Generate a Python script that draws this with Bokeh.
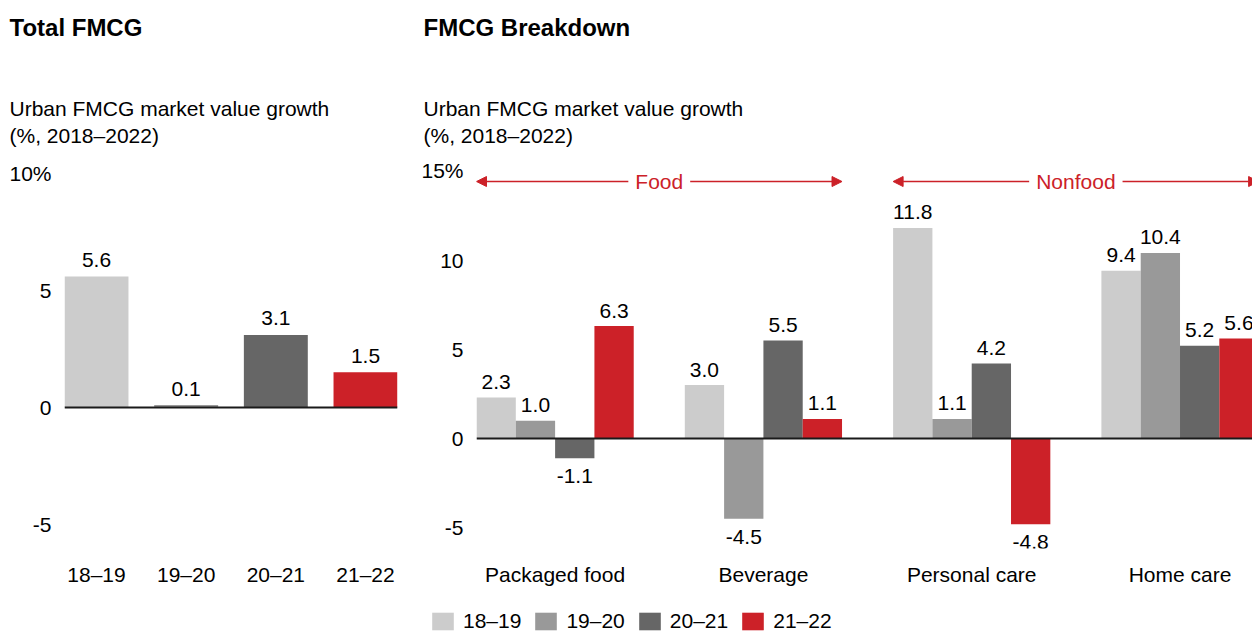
from bokeh.plotting import figure
from bokeh.layouts import row, column
from bokeh.models import (Range1d, FixedTicker, Span, Label, Arrow, NormalHead,
                          ColumnDataSource, Legend, LegendItem)
from bokeh.core.properties import value
from bokeh.embed import file_html
from bokeh.resources import INLINE

# ---------------- data ----------------
periods = ["18–19", "19–20", "20–21", "21–22"]
total_growth = [5.6, 0.1, 3.1, 1.5]

segments = ["Packaged food", "Beverage", "Personal care", "Home care"]
growth_18_19 = [2.3, 3.0, 11.8, 9.4]
growth_19_20 = [1.0, -4.5, 1.1, 10.4]
growth_20_21 = [-1.1, 5.5, 4.2, 5.2]
growth_21_22 = [6.3, 1.1, -4.8, 5.6]
series = [growth_18_19, growth_19_20, growth_20_21, growth_21_22]

left_ticks = [-5, 0, 5, 10]
left_tick_labels = ["-5", "0", "5", "10%"]
right_ticks = [-5, 0, 5, 10, 15]
right_tick_labels = ["-5", "0", "5", "10", "15%"]

colors = ["#cccccc", "#999999", "#666666", "#cc2128"]
RED = "#cc2128"
FONT = "Liberation Sans"
FS = "21px"
W = 1252
HEAD_H = 150
CHART_H = 443
LEG_H = 40


def bare(p):
    p.grid.visible = False
    p.outline_line_color = None
    p.background_fill_color = "white"
    p.border_fill_color = "white"


def style(p):
    bare(p)
    for ax in (p.xaxis, p.yaxis):
        ax.axis_line_color = None
        ax.major_tick_line_color = None
        ax.minor_tick_line_color = None
        ax.major_tick_out = 0
        ax.major_label_text_font = FONT
        ax.major_label_text_font_size = FS
        ax.major_label_text_color = "#000000"
    p.yaxis.major_label_standoff = 13
    p.xaxis.major_label_standoff = 14


txt = dict(text_font=value(FONT), text_font_size=value(FS), text_color="#000000",
           text_align="center", text_baseline="middle")

# ---------------- header with titles ----------------
head = figure(width=W, height=HEAD_H, x_range=Range1d(0, W), y_range=Range1d(HEAD_H, 0),
              x_axis_type=None, y_axis_type=None, output_backend="svg",
              toolbar_location=None, title=None, min_border=0)
bare(head)
for x0, ttl in [(9, "Total FMCG"), (423, "FMCG Breakdown")]:
    head.add_layout(Label(x=x0, y=27, text=ttl, text_font=FONT, text_font_size="24px",
                          text_font_style="bold", text_baseline="middle",
                          text_align="left", text_color="#000000"))
    head.add_layout(Label(x=x0, y=108, text="Urban FMCG market value growth",
                          text_font=FONT, text_font_size=FS, text_baseline="middle",
                          text_align="left", text_color="#000000"))
    head.add_layout(Label(x=x0, y=135, text="(%, 2018–2022)",
                          text_font=FONT, text_font_size=FS, text_baseline="middle",
                          text_align="left", text_color="#000000"))

# ---------------- left: total ----------------
left = figure(width=410, height=CHART_H, x_range=Range1d(-0.357, 3.357),
              y_range=Range1d(-6.03, 10.43), output_backend="svg", title=None,
              toolbar_location=None, min_border_left=64, min_border_right=13,
              min_border_top=13, min_border_bottom=45)
style(left)
lx = list(range(len(periods)))
lsrc = ColumnDataSource(dict(x=lx, top=total_growth, color=colors,
                             label=[f"{v:.1f}" for v in total_growth]))
left.vbar(x="x", top="top", bottom=0, width=0.713, fill_color="color",
          line_color=None, source=lsrc)
left.text(x="x", y="top", text="label", source=lsrc, y_offset=-16.5, **txt)
left.add_layout(Span(location=0, dimension="width", line_color="#1a1a1a", line_width=2))
left.xaxis.ticker = FixedTicker(ticks=lx)
left.xaxis.major_label_overrides = {i: s for i, s in zip(lx, periods)}
left.yaxis.ticker = FixedTicker(ticks=left_ticks)
left.yaxis.major_label_overrides = {t: s for t, s in zip(left_ticks, left_tick_labels)}

# ---------------- right: breakdown ----------------
bw = 0.1887
right = figure(width=W - 410, height=CHART_H, x_range=Range1d(-2 * bw, 3.348),
               y_range=Range1d(-6.16, 15.41), output_backend="svg", title=None,
               toolbar_location=None, min_border_left=66, min_border_right=0,
               min_border_top=13, min_border_bottom=45)
style(right)
gx = list(range(len(segments)))
for j, vals in enumerate(series):
    xs = [g + (j - 1.5) * bw for g in gx]
    src = ColumnDataSource(dict(x=xs, top=vals))
    right.vbar(x="x", top="top", bottom=0, width=bw, fill_color=colors[j],
               line_color=None, source=src)
    pos = [i for i, v in enumerate(vals) if v >= 0]
    neg = [i for i, v in enumerate(vals) if v < 0]
    psrc = ColumnDataSource(dict(x=[xs[i] for i in pos], y=[vals[i] for i in pos],
                                 label=[f"{vals[i]:.1f}" for i in pos]))
    nsrc = ColumnDataSource(dict(x=[xs[i] for i in neg], y=[vals[i] for i in neg],
                                 label=[f"{vals[i]:.1f}" for i in neg]))
    right.text(x="x", y="y", text="label", source=psrc, y_offset=-15.5, **txt)
    right.text(x="x", y="y", text="label", source=nsrc, y_offset=18, **txt)

right.add_layout(Span(location=0, dimension="width", line_color="#1a1a1a", line_width=2))
right.xaxis.ticker = FixedTicker(ticks=gx)
right.xaxis.major_label_overrides = {i: s for i, s in zip(gx, segments)}
right.yaxis.ticker = FixedTicker(ticks=right_ticks)
right.yaxis.major_label_overrides = {t: s for t, s in zip(right_ticks, right_tick_labels)}

# Food / Nonfood brackets
arrow_y = 14.4
for (g0, g1, name) in [(0, 1, "Food"), (2, 3, "Nonfood")]:
    right.add_layout(Arrow(x_start=g0 - 2 * bw, x_end=g1 + 2 * bw, y_start=arrow_y, y_end=arrow_y,
                           line_color=RED, line_width=1.5,
                           start=NormalHead(size=10, fill_color=RED, line_color=RED),
                           end=NormalHead(size=10, fill_color=RED, line_color=RED)))
    right.add_layout(Label(x=(g0 + g1) / 2, y=arrow_y, text=name, text_align="center",
                           text_baseline="middle", text_font=FONT, text_font_size=FS,
                           text_color=RED, background_fill_color="white", padding=7))

# ---------------- legend strip ----------------
legf = figure(width=W, height=LEG_H, x_range=Range1d(0, W), y_range=Range1d(0, LEG_H),
              x_axis_type=None, y_axis_type=None, output_backend="svg",
              toolbar_location=None, title=None, min_border=0)
bare(legf)
items = []
for j, per in enumerate(periods):
    # swatch-only renderer, placed outside the visible range
    r = legf.vbar(x=[-100], top=[0], width=1, fill_color=colors[j], line_color=None)
    items.append(LegendItem(label=per, renderers=[r]))
lg = Legend(items=items, orientation="horizontal", location=(429, 0),
            glyph_width=27, glyph_height=22, label_height=22, label_standoff=7,
            spacing=11, padding=0, margin=0, border_line_color=None,
            background_fill_alpha=0, label_text_font=FONT, label_text_font_size=FS,
            label_text_color="#000000")
legf.add_layout(lg)

layout = column(head, row(left, right), legf)
open("out.html", "w").write(file_html(layout, INLINE))
